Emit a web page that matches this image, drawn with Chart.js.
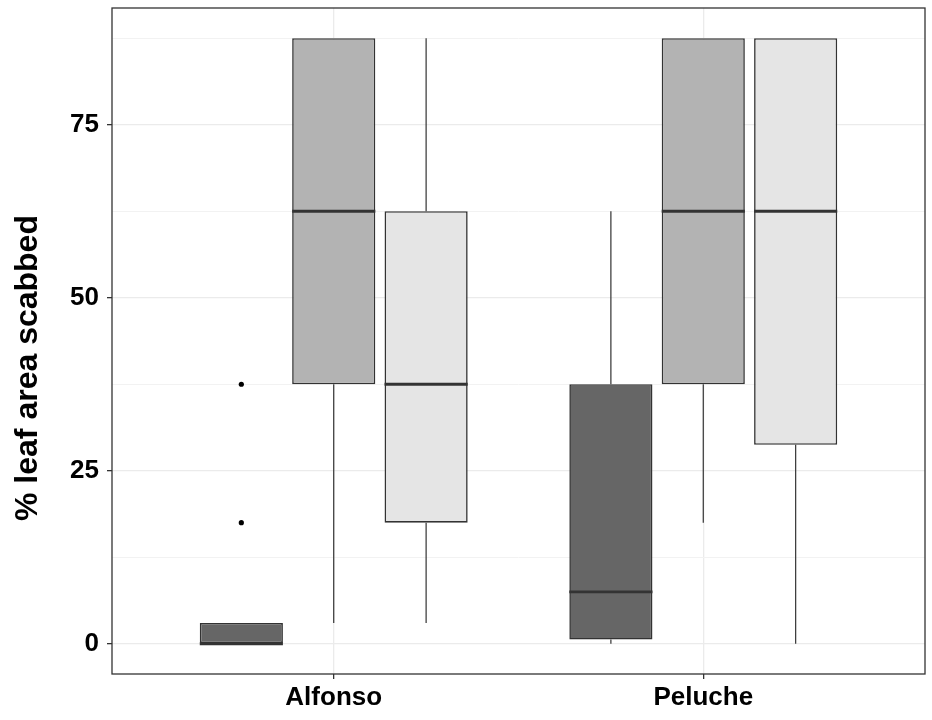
<!DOCTYPE html>
<html>
<head>
<meta charset="utf-8">
<script src="https://cdn.jsdelivr.net/npm/chart.js@4/dist/chart.umd.min.js"></script>
<style>
  html, body { margin: 0; padding: 0; background: #fff; }
  #wrap { width: 932px; height: 720px; }
</style>
</head>
<body>
<div id="wrap"><canvas id="boxCanvas" width="932" height="720"></canvas></div>
<script>
// categories on the x axis
const categories = ['Alfonso', 'Peluche'];

// three treatment groups (dark / mid / light fill), one value per category
const darkLow = [0, 0];
const darkQ1 = [0, 0.6];
const darkMedian = [0, 7.5];
const darkQ3 = [3, 37.5];
const darkHigh = [3, 62.5];
const darkOutliers = [[17.5, 37.5], []];

const midLow = [3, 17.5];
const midQ1 = [37.5, 37.5];
const midMedian = [62.5, 62.5];
const midQ3 = [87.5, 87.5];
const midHigh = [87.5, 87.5];
const midOutliers = [[], []];

const lightLow = [3, 0];
const lightQ1 = [17.5, 28.75];
const lightMedian = [37.5, 62.5];
const lightQ3 = [62.5, 87.5];
const lightHigh = [87.5, 87.5];
const lightOutliers = [[], []];

const yTicks = [0, 25, 50, 75];
const yTitle = '% leaf area scabbed';

const groups = [
  { fill: '#666666', low: darkLow, q1: darkQ1, med: darkMedian, q3: darkQ3, high: darkHigh, out: darkOutliers },
  { fill: '#B3B3B3', low: midLow, q1: midQ1, med: midMedian, q3: midQ3, high: midHigh, out: midOutliers },
  { fill: '#E5E5E5', low: lightLow, q1: lightQ1, med: lightMedian, q3: lightQ3, high: lightHigh, out: lightOutliers }
];

const lineClr = '#333333';
const fontFam = '"Liberation Sans", Arial, sans-serif';

// medians, whiskers, outliers, panel frame and y title
const boxExtras = {
  id: 'boxExtras',
  afterDatasetsDraw(chart) {
    const ctx = chart.ctx;
    const y = chart.scales.y;
    ctx.save();
    groups.forEach((g, di) => {
      const meta = chart.getDatasetMeta(di);
      meta.data.forEach((bar, i) => {
        const cx = bar.x, half = bar.width / 2;
        ctx.strokeStyle = lineClr;
        // whiskers
        ctx.lineWidth = 1.2;
        ctx.beginPath();
        ctx.moveTo(cx, y.getPixelForValue(g.q3[i]));
        ctx.lineTo(cx, y.getPixelForValue(g.high[i]));
        ctx.moveTo(cx, y.getPixelForValue(g.q1[i]));
        ctx.lineTo(cx, y.getPixelForValue(g.low[i]));
        ctx.stroke();
        // median
        ctx.lineWidth = 2.8;
        ctx.beginPath();
        const my = y.getPixelForValue(g.med[i]);
        ctx.moveTo(cx - half, my);
        ctx.lineTo(cx + half, my);
        ctx.stroke();
        // outliers
        ctx.fillStyle = '#000';
        g.out[i].forEach(v => {
          ctx.beginPath();
          ctx.arc(cx, y.getPixelForValue(v), 2.6, 0, Math.PI * 2);
          ctx.fill();
        });
      });
    });
    const a = chart.chartArea;
    ctx.strokeStyle = lineClr;
    ctx.lineWidth = 1.3;
    ctx.strokeRect(a.left, a.top, a.right - a.left, a.bottom - a.top);

    // y axis title, placed like the ggplot one
    ctx.translate(28, (a.top + a.bottom) / 2 + 27);
    ctx.rotate(-Math.PI / 2);
    ctx.fillStyle = '#000';
    ctx.font = 'bold 32px ' + fontFam;
    ctx.textAlign = 'center';
    ctx.textBaseline = 'middle';
    ctx.fillText(yTitle, 0, 0);
    ctx.restore();
  }
};

new Chart(document.getElementById('boxCanvas').getContext('2d'), {
  type: 'bar',
  data: {
    datasets: groups.map(g => ({
      data: categories.map((c, i) => ({ x: i + 1, y: [g.q1[i], g.q3[i]] })),
      backgroundColor: g.fill,
      borderColor: lineClr,
      borderWidth: 1.6,
      borderSkipped: false,
      categoryPercentage: 0.75,
      barPercentage: 0.9
    }))
  },
  options: {
    responsive: false,
    animation: false,
    layout: { padding: { top: 8, right: 7, bottom: 0, left: 0 } },
    plugins: { legend: { display: false }, tooltip: { enabled: false } },
    scales: {
      x: {
        type: 'linear',
        offset: false,
        min: 0.4, max: 2.6,
        afterFit: s => { s.height = 46; s.paddingLeft = 0; s.paddingRight = 0; },
        border: { display: false },
        grid: { offset: false, color: '#EBEBEB', lineWidth: 1.3, tickColor: lineClr, tickLength: 5 },
        ticks: {
          stepSize: 1, includeBounds: false, autoSkip: false, maxRotation: 0,
          padding: 3, color: '#000',
          font: { family: fontFam, size: 26, weight: 'bold' },
          callback: v => categories[v - 1] || ''
        }
      },
      y: {
        min: -4.375, max: 91.875,
        afterFit: s => { s.width = 112; s.paddingTop = 0; s.paddingBottom = 0; },
        border: { display: false },
        grid: {
          color: ctx => yTicks.includes(ctx.tick.value) ? '#EBEBEB' : '#F2F2F2',
          lineWidth: ctx => yTicks.includes(ctx.tick.value) ? 1.3 : 1,
          tickColor: ctx => yTicks.includes(ctx.tick.value) ? lineClr : 'rgba(0,0,0,0)',
          tickLength: 5
        },
        ticks: {
          stepSize: 12.5, includeBounds: false, autoSkip: false,
          padding: 8, color: '#000',
          font: { family: fontFam, size: 26, weight: 'bold' },
          callback: v => yTicks.includes(v) ? String(v) : ''
        }
      }
    }
  },
  plugins: [boxExtras]
});
</script>
</body>
</html>
